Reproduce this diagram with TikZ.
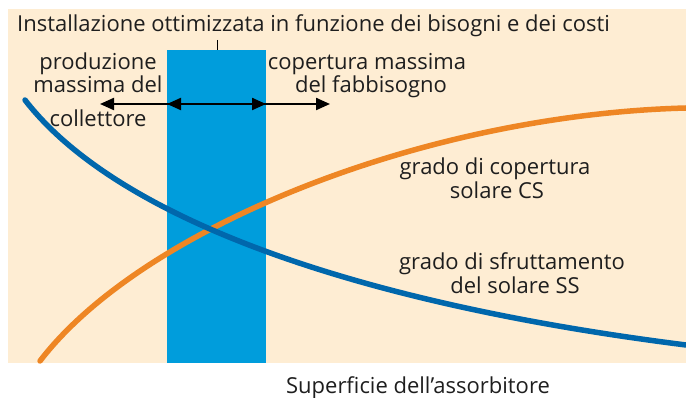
\documentclass[tikz,border=0pt]{standalone}
\usepackage{fontspec}
\setmainfont{Open Sans}
\usetikzlibrary{arrows.meta}
\definecolor{sfondo}{HTML}{FEEDD3}
\definecolor{fascia}{HTML}{009DDC}
\definecolor{curvass}{HTML}{0067AC}
\definecolor{curvacs}{HTML}{EE8624}
\definecolor{scritta}{HTML}{1E1E1E}
\tikzset{
  testo/.style={align=center, inner sep=0pt, text=scritta, font=\fontsize{22}{26}\selectfont},
  curva/.style={line width=5.5pt, line cap=round},
  freccia/.style={line width=2.2pt, -{Triangle[length=14pt,width=12pt]}}
}
\begin{document}
\begin{tikzpicture}[x=1pt,y=-1pt]
  \useasboundingbox (0,0) rectangle (686,398);
  \fill[sfondo] (8,9) rectangle (686,363);
  \fill[fascia] (167,50) rectangle (266,363);
  \draw[line width=1pt] (217,40) -- (217,50);
  % curve
  \draw[curva, curvacs] (40,361) .. controls (140,230) and (420,115) .. (686,108);
  \draw[curva, curvass] (25,100) .. controls (110,210) and (330,300) .. (686,345);
  % testi
  \draw
    (17,32) node[testo, anchor=base west] (titolo){Installazione ottimizzata in funzione dei bisogni e dei costi}
    (98,70) node[testo, anchor=base] (prod1){produzione}
    (98,93) node[testo, anchor=base] (prod2){massima del}
    (98,127) node[testo, anchor=base] (prod3){collettore}
    (367,70) node[testo, anchor=base] (cop1){copertura massima}
    (371,93) node[testo, anchor=base] (cop2){del fabbisogno}
    (495,175) node[testo, anchor=base] (cs1){grado di copertura}
    (497,199) node[testo, anchor=base] (cs2){solare CS}
    (512,270) node[testo, anchor=base] (ss1){grado di sfruttamento}
    (515,294) node[testo, anchor=base] (ss2){del solare SS}
    (418,393) node[testo, anchor=base] (asse){Superficie dell’assorbitore};
  \coordinate (sx) at (100,104);
  \coordinate (fsx) at (167,104);
  \coordinate (fdx) at (266,104);
  \coordinate (dx) at (330,104);
  \begin{scope}[freccia]
    \draw (fsx) to (sx);
    \draw (fdx) to (fsx);
    \draw (fsx) to (fdx);
    \draw (fdx) to (dx);
  \end{scope}
\end{tikzpicture}
\end{document}
